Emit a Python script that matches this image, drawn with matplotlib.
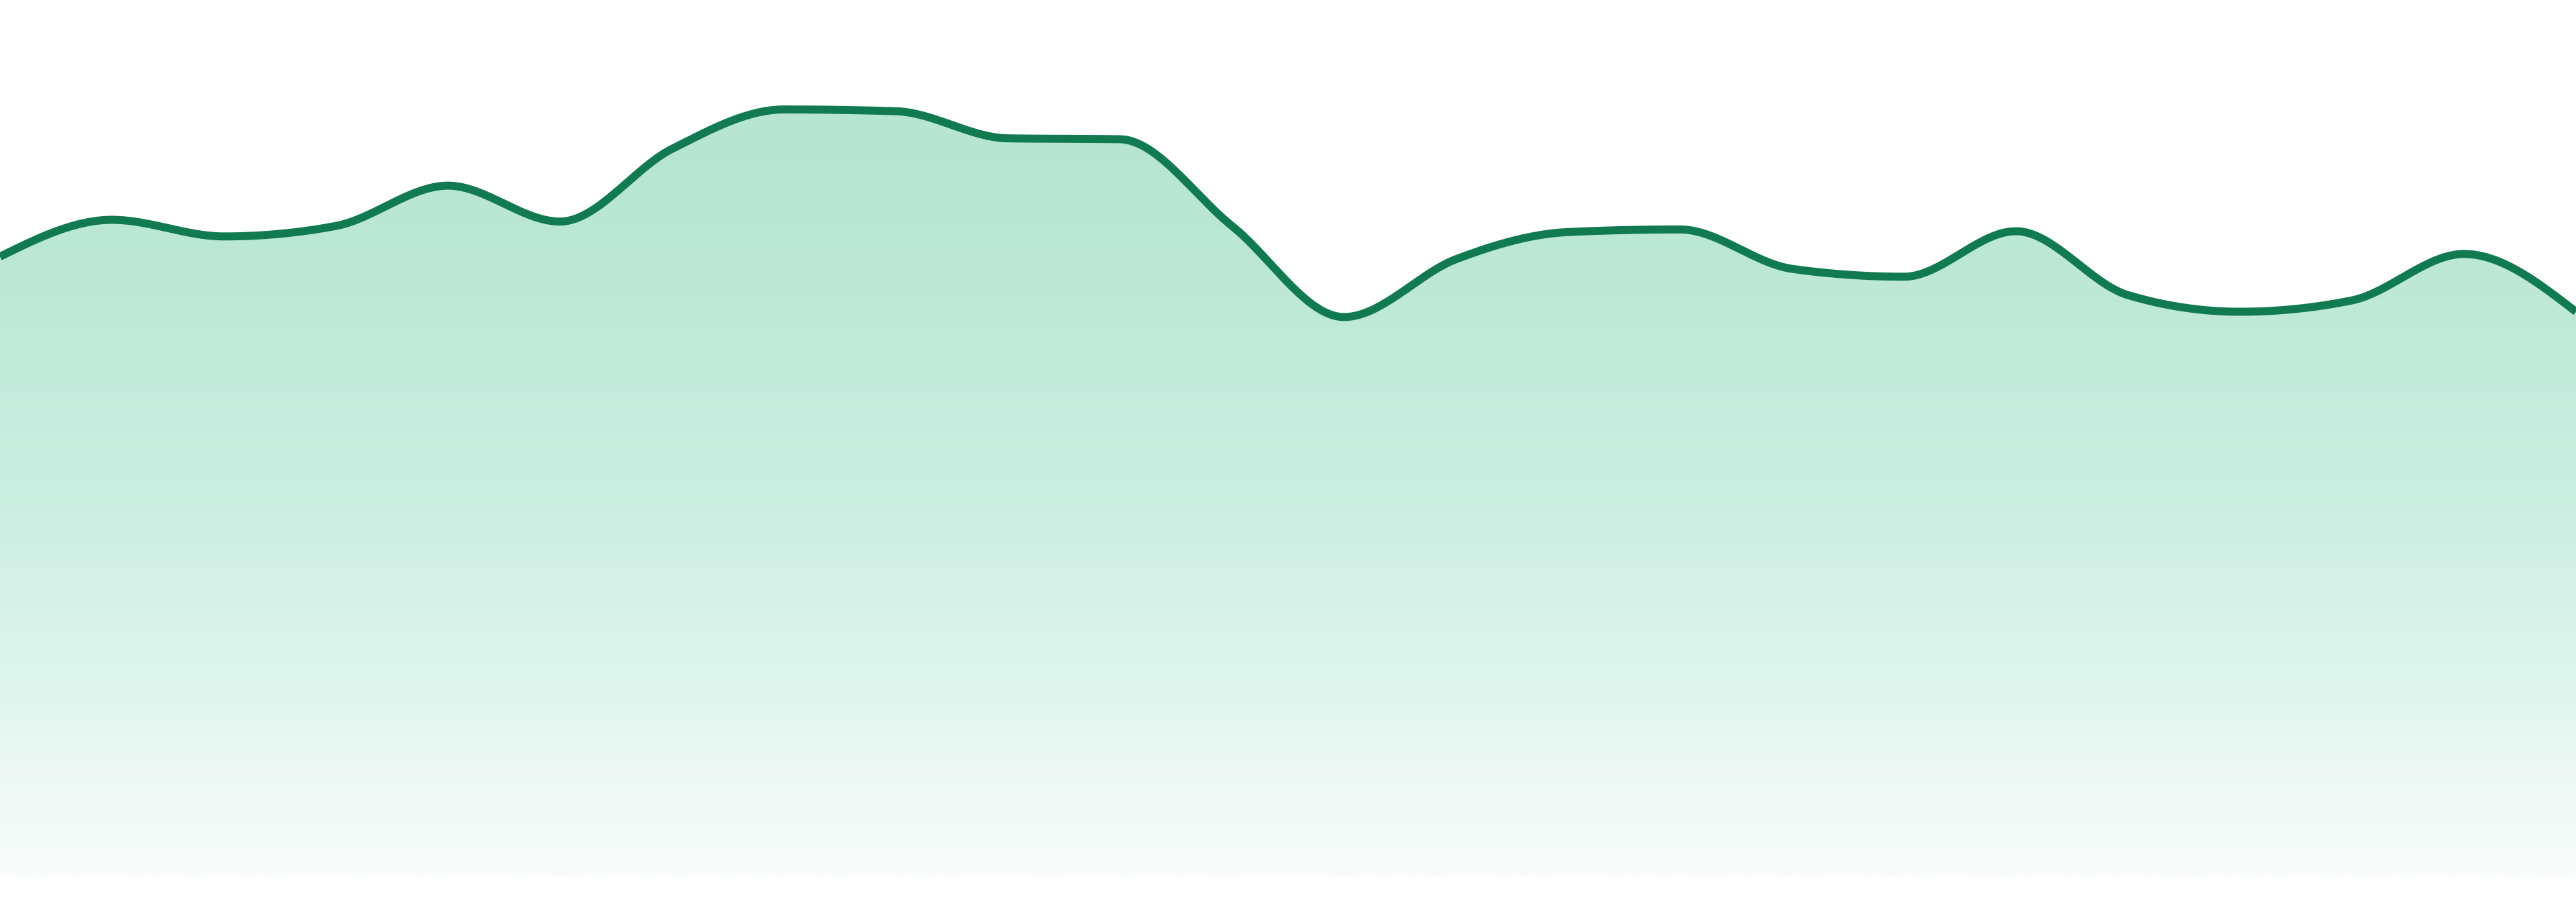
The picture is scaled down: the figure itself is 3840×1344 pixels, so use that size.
import numpy as np
import matplotlib
matplotlib.use("Agg")
import matplotlib.pyplot as plt
from matplotlib.colors import LinearSegmentedColormap
from matplotlib.patches import Polygon

# ── Data ────────────────────────────────────────────────────────────────────
values = [70.7, 74.9, 73.0, 74.2, 78.8, 74.7, 83.0, 87.5, 87.3, 84.2, 84.1, 74.2,
          63.8, 70.4, 73.5, 73.8, 69.3, 68.4, 73.6, 66.3, 64.4, 65.7, 71.0, 64.4]
positions = list(range(len(values)))

LINE_COLOR = "#117a51"
# gradient stops: (fraction from top of data down to baseline, colour)
GRADIENT_STOPS = [
    (0.00, "#b6e5d1"),
    (0.28, "#bfe9d9"),
    (0.47, "#c8ede0"),
    (0.63, "#d5f2e8"),
    (0.77, "#e0f5ee"),
    (0.87, "#eef9f5"),
    (0.96, "#f5fbf9"),
    (1.00, "#f8fcfb"),
]


def monotone_x(x, y, n_per_seg=60):
    """Monotone cubic interpolation (same idea as d3.curveMonotoneX)."""
    x = np.asarray(x, float)
    y = np.asarray(y, float)
    h = np.diff(x)
    s = np.diff(y) / h
    n = len(x)
    t = np.zeros(n)
    for i in range(1, n - 1):
        s0, s1 = s[i - 1], s[i]
        p = (s0 * h[i] + s1 * h[i - 1]) / (h[i - 1] + h[i])
        t[i] = (np.sign(s0) + np.sign(s1)) * min(abs(s0), abs(s1), 0.5 * abs(p))
    t[0] = (3 * s[0] - t[1]) / 2
    t[-1] = (3 * s[-1] - t[-2]) / 2

    xs, ys = [], []
    for i in range(n - 1):
        u = np.linspace(0, 1, n_per_seg, endpoint=(i == n - 2))
        h00 = 2 * u**3 - 3 * u**2 + 1
        h10 = u**3 - 2 * u**2 + u
        h01 = -2 * u**3 + 3 * u**2
        h11 = u**3 - u**2
        xs.append(x[i] + u * h[i])
        ys.append(h00 * y[i] + h10 * h[i] * t[i] + h01 * y[i + 1] + h11 * h[i] * t[i + 1])
    return np.concatenate(xs), np.concatenate(ys)


fig = plt.figure(figsize=(38.4, 13.44), dpi=100)
fig.patch.set_facecolor("white")
ax = fig.add_axes([0, 0, 1, 1])
ax.set_xlim(positions[0], positions[-1])
ax.set_ylim(-3, 100)
ax.axis("off")

cx, cy = monotone_x(positions, values)

# gradient fill clipped to the area under the curve
cmap = LinearSegmentedColormap.from_list("area", GRADIENT_STOPS)
grad = np.linspace(0, 1, 512).reshape(-1, 1)
top = max(values)
img = ax.imshow(grad, cmap=cmap, aspect="auto", origin="upper",
                extent=[positions[0], positions[-1], 0, top], zorder=1,
                interpolation="bilinear")
poly_pts = np.column_stack([np.r_[cx[0], cx, cx[-1]], np.r_[0, cy, 0]])
clip = Polygon(poly_pts, closed=True, facecolor="none", edgecolor="none")
ax.add_patch(clip)
img.set_clip_path(clip)

ax.plot(cx, cy, color=LINE_COLOR, linewidth=8.6, solid_capstyle="butt",
        solid_joinstyle="round", zorder=3)

ax.set_xlim(positions[0], positions[-1])
ax.set_ylim(-3, 100)

fig.savefig("out.png", dpi=100, facecolor="white")
